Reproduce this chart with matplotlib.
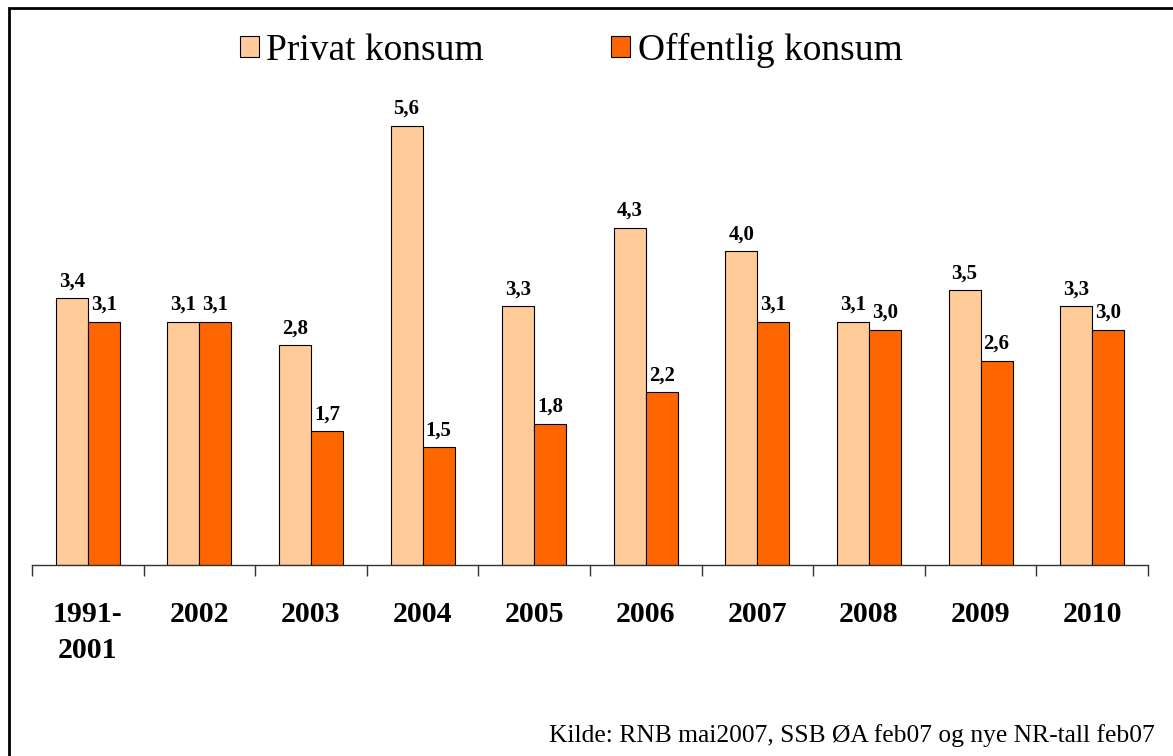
import numpy as np
import matplotlib.pyplot as plt
from matplotlib.patches import Rectangle

# data
years = ['1991-\n2001', '2002', '2003', '2004', '2005', '2006', '2007', '2008', '2009', '2010']
privat = [3.4, 3.1, 2.8, 5.6, 3.3, 4.3, 4.0, 3.1, 3.5, 3.3]
offentlig = [3.1, 3.1, 1.7, 1.5, 1.8, 2.2, 3.1, 3.0, 2.6, 3.0]
series_names = ['Privat konsum', 'Offentlig konsum']
source = 'Kilde: RNB mai2007, SSB ØA feb07 og nye NR-tall feb07'

plt.rcParams['font.family'] = ['Liberation Serif', 'DejaVu Serif']

W, H = 1173, 756
fig = plt.figure(figsize=(W / 100, H / 100), dpi=100)

# axes placed in pixel terms: baseline at y=564.5, 78.3 px per unit
y0 = 564.5
ymax = 6.0
ytop = y0 - ymax * 78.3
ax = fig.add_axes([32 / W, (H - y0) / H, (1148 - 32) / W, (y0 - ytop) / H])

x = np.arange(len(years))
w = 0.287
b1 = ax.bar(x - w / 2, privat, w, color='#FFCC99', edgecolor='black', linewidth=0.8,
            label=series_names[0])
b2 = ax.bar(x + w / 2, offentlig, w, color='#FF6600', edgecolor='black', linewidth=0.8,
            label=series_names[1])

for bars, vals in [(b1, privat), (b2, offentlig)]:
    for rect, v in zip(bars, vals):
        ax.annotate(f'{v:.1f}'.replace('.', ','),
                    (rect.get_x() + rect.get_width() / 2, rect.get_height()),
                    xytext=(0, 5), textcoords='offset points',
                    ha='center', va='bottom', fontsize=15, fontweight='bold')

ax.set_xlim(-0.5, len(years) - 0.5)
ax.set_ylim(0, ymax)
ax.set_yticks([])
for s in ['top', 'right', 'left']:
    ax.spines[s].set_visible(False)
ax.spines['bottom'].set_color('#333333')
ax.spines['bottom'].set_linewidth(1.0)

ax.set_xticks(x)
ax.set_xticklabels(years, fontsize=21.5, fontweight='bold', linespacing=1.45)
ax.tick_params(axis='x', which='major', length=0, pad=26)
ax.set_xticks(np.arange(-0.5, len(years)), minor=True)
ax.tick_params(axis='x', which='minor', length=8, width=1.0, color='#333333')

fig.legend(handles=[b1, b2], labels=series_names, loc='center', ncol=2,
           bbox_to_anchor=(0.487, 1 - 50 / H), frameon=False, fontsize=27,
           handlelength=0.5, handleheight=0.5, handletextpad=0.2,
           columnspacing=3.4)

fig.text(1155 / W, 1 - 742 / H, source, ha='right', va='baseline', fontsize=18.4)

# frame around the whole chart (right and bottom edges fall outside the picture)
fig.patches.append(Rectangle((9 / W, -0.05), 1.2, 1 - 8 / H + 0.05,
                             transform=fig.transFigure, fill=False,
                             edgecolor='black', linewidth=2))

fig.savefig('out.png', dpi=100)
